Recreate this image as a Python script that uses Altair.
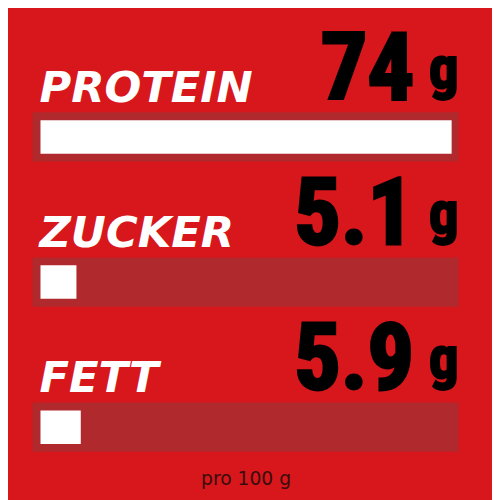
import altair as alt
import pandas as pd

# ---- data ----
NUTRIENTS = ["PROTEIN", "ZUCKER", "FETT"]
VALUES = [74, 5.1, 5.9]
UNIT = ["g", "g", "g"]
FOOTER = "pro 100 g"

# ---- style ----
BG = "#D7171B"
TRACK = "#B0292D"
FILL = "#FFFFFF"
X_DOMAIN = [-2.95, 75.27]
BAR_START = -1.5
NUM_FONT = "Roboto Condensed, Liberation Sans Narrow, Liberation Sans, sans-serif"

df = pd.DataFrame({"nutrient": NUTRIENTS, "value": VALUES, "unit": UNIT})

yscale = alt.Scale(paddingInner=0.661, paddingOuter=0.3966, align=0.872)
ybase = alt.Y("nutrient:N", sort=NUTRIENTS, axis=None, scale=yscale)
ytop = alt.Y("nutrient:N", sort=NUTRIENTS, axis=None, scale=yscale, bandPosition=0)

base = alt.Chart(df)

track = base.mark_bar(color=TRACK).encode(
    x=alt.XDatum(X_DOMAIN[0], type="quantitative"),
    x2=alt.X2Datum(X_DOMAIN[1]),
    y=ybase,
)

fill = base.mark_bar(color=FILL, height=34).encode(
    x=alt.X(
        "value:Q",
        scale=alt.Scale(domain=X_DOMAIN, zero=False, nice=False),
        axis=alt.Axis(
            domain=False, ticks=False, labels=False, grid=False,
            title=FOOTER, titleFont="DejaVu Sans", titleFontSize=19,
            titleFontWeight="normal", titleColor="#3a0c0c", titlePadding=3,
        ),
    ),
    x2=alt.X2Datum(BAR_START),
    y=ybase,
)

labels = base.mark_text(
    align="left", baseline="alphabetic", dy=-11,
    font="DejaVu Sans", fontSize=44, fontWeight="bold", fontStyle="italic",
    color="white",
).encode(x=alt.value(7), y=ytop, text="nutrient:N")

numbers = base.mark_text(
    align="right", baseline="alphabetic", dy=-14,
    font=NUM_FONT, fontSize=94, fontWeight="bold", color="black",
    stroke="black", strokeWidth=3,
).encode(x=alt.value(388), y=ytop, text=alt.Text("value:Q"))

units = base.mark_text(
    align="left", baseline="alphabetic", dy=-25,
    font=NUM_FONT, fontSize=60, fontWeight="bold", color="black",
    stroke="black", strokeWidth=2,
).encode(x=alt.value(403), y=ytop, text="unit:N")

chart = alt.layer(track, fill, labels, numbers, units).properties(
    width=433, height=462,
    background=BG,
    padding={"left": 25, "top": 0, "right": 34, "bottom": 30},
    autosize=alt.AutoSizeParams(type="none"),
).configure_view(stroke=None)

chart.save("out.html", embed_options={"renderer": "svg", "actions": False})
